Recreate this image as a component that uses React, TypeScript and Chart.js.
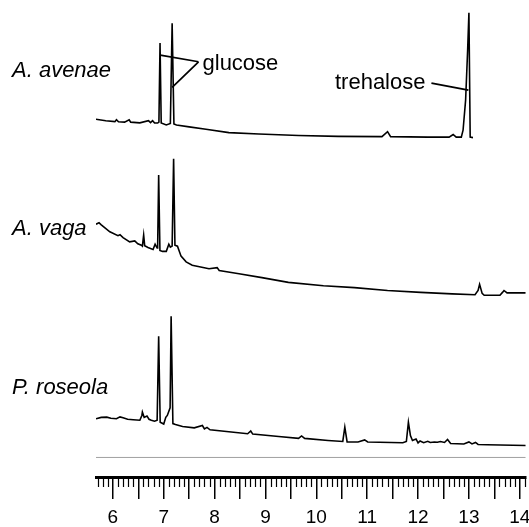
import React, { useEffect, useRef } from 'react';
import { Chart, registerables } from 'chart.js';

Chart.register(...registerables);

// ---- data (retention time in min, detector signal in arbitrary units) ----
const traceNames = ['A. avenae', 'A. vaga', 'P. roseola'];
const traceOffsets = [70, 35, 5];
const traceLabelLevels = [83.8, 50.7, 17.5];

const avenae: [number, number][] = [
  [5.668, 5.0], [5.86, 4.7], [6.04, 4.5], [6.07, 4.9], [6.11, 4.46], [6.23, 4.4], [6.32, 4.9], [6.35, 4.4],
  [6.53, 4.25], [6.70, 4.7], [6.74, 4.3], [6.78, 4.7], [6.82, 4.2], [6.88, 4.2], [6.905, 4.4], [6.927, 21.0],
  [6.95, 4.2], [7.05, 3.8], [7.13, 4.1], [7.165, 25.1], [7.20, 4.0], [7.25, 3.8], [7.50, 3.4], [7.83, 2.9],
  [8.28, 2.2], [8.87, 1.9], [9.65, 1.6], [10.43, 1.4], [11.29, 1.35], [11.40, 2.4], [11.46, 1.35],
  [12.19, 1.25], [12.61, 1.25], [12.69, 1.8], [12.75, 1.25], [12.85, 1.25], [12.885, 2.7], [12.935, 9.0],
  [12.975, 19.5], [13.0, 27.3], [13.025, 1.25], [13.08, 1.15],
];

const vaga: [number, number][] = [
  [5.668, 18.0], [5.727, 18.3], [5.766, 17.9], [5.94, 16.4], [6.10, 15.6], [6.14, 15.8], [6.20, 15.2],
  [6.33, 14.3], [6.43, 14.5], [6.49, 13.9], [6.56, 13.6], [6.58, 13.4], [6.605, 15.7], [6.625, 13.5],
  [6.69, 13.1], [6.79, 12.7], [6.83, 13.8], [6.87, 13.0], [6.88, 13.2], [6.90, 28.3], [6.925, 12.5],
  [6.976, 12.3], [7.05, 12.3], [7.10, 13.8], [7.13, 13.2], [7.165, 13.4], [7.194, 31.7], [7.22, 13.6],
  [7.27, 13.4], [7.34, 11.3], [7.44, 10.1], [7.56, 9.4], [7.89, 8.65], [8.05, 8.9], [8.09, 8.3],
  [8.48, 7.6], [8.93, 6.8], [9.45, 5.8], [10.14, 5.1], [10.75, 4.7], [11.40, 4.1], [12.05, 3.7],
  [12.67, 3.4], [13.12, 3.2], [13.18, 4.1], [13.21, 5.4], [13.26, 3.5], [13.30, 3.1], [13.61, 3.1],
  [13.66, 3.7], [13.69, 4.1], [13.75, 3.6], [13.80, 3.6], [14.117, 3.6],
];

const roseola: [number, number][] = [
  [5.668, 7.2], [5.77, 7.5], [5.88, 7.55], [5.96, 7.3], [6.07, 7.2], [6.14, 7.6], [6.20, 7.4], [6.29, 7.1],
  [6.40, 7.0], [6.53, 6.9], [6.57, 7.9], [6.58, 8.6], [6.615, 7.5], [6.67, 7.8], [6.71, 7.1], [6.755, 6.9],
  [6.82, 6.7], [6.87, 6.9], [6.90, 24.5], [6.93, 6.5], [7.0, 6.1], [7.04, 7.5], [7.07, 7.9], [7.125, 9.5],
  [7.145, 28.7], [7.18, 6.2], [7.23, 6.0], [7.37, 5.6], [7.60, 5.3], [7.76, 5.8], [7.80, 5.1], [7.85, 5.4],
  [7.91, 4.9], [8.28, 4.5], [8.65, 4.07], [8.71, 4.65], [8.75, 4.0], [9.26, 3.5], [9.65, 3.1], [9.71, 3.6],
  [9.77, 3.1], [10.23, 2.66], [10.52, 2.45], [10.56, 5.45], [10.605, 2.35], [10.82, 2.35], [10.95, 2.77],
  [11.01, 2.35], [11.70, 2.18], [11.77, 2.45], [11.81, 6.5], [11.85, 3.7], [11.89, 2.66], [11.96, 2.97],
  [12.0, 2.14], [12.04, 2.55], [12.11, 2.18], [12.19, 2.49], [12.24, 2.24], [12.32, 2.35], [12.38, 2.28],
  [12.44, 2.45], [12.52, 2.24], [12.58, 2.87], [12.64, 2.03], [12.90, 1.93], [13.0, 2.35], [13.06, 1.93],
  [13.13, 2.24], [13.18, 1.82], [13.36, 1.76], [14.117, 1.61],
];

const separatorLevel = 4.1;
const majorTicks = [6, 7, 8, 9, 10, 11, 12, 13, 14];
const xRange = [5.668, 14.117];
const yRange = [0, 100];
const minorStep = 0.1;

const glucoseLabel = { text: 'glucose', x: 7.762, y: 85.31 };
const glucoseJoin: [number, number] = [7.684, 87.05];
const glucoseTargets: [number, number][] = [[6.931, 88.46], [7.165, 81.68]];
const trehaloseLabel = { text: 'trehalose', x: 12.146, y: 81.26 };
const trehaloseLine: [number, number][] = [[12.263, 82.58], [12.99, 81.11]];

const FONT = "'Liberation Sans', Arial, Helvetica, sans-serif";

const traces = [avenae, vaga, roseola];

const overlay = {
  id: 'overlay',
  afterDraw(chart: any) {
    const { ctx, chartArea, scales } = chart;
    const x = scales.x;
    const y = scales.y;
    ctx.save();
    // minor ruler ticks
    ctx.strokeStyle = '#000';
    ctx.lineWidth = 1.2;
    const bottom = chartArea.bottom;
    const kStart = Math.ceil(x.min / minorStep - 1e-6);
    const kEnd = Math.floor(x.max / minorStep + 1e-6);
    for (let k = kStart; k <= kEnd; k++) {
      if (k % 5 === 0) continue;
      const px = Math.round(x.getPixelForValue(k * minorStep)) + 0.5;
      ctx.beginPath();
      ctx.moveTo(px, bottom + 1);
      ctx.lineTo(px, bottom + 10);
      ctx.stroke();
    }
    // trace names
    ctx.fillStyle = '#000';
    ctx.font = `italic 22px ${FONT}`;
    ctx.textAlign = 'left';
    ctx.textBaseline = 'alphabetic';
    traceNames.forEach((name, i) => {
      ctx.fillText(name, 12, y.getPixelForValue(traceLabelLevels[i]));
    });
    // annotations
    ctx.font = `22px ${FONT}`;
    ctx.fillText(glucoseLabel.text, x.getPixelForValue(glucoseLabel.x), y.getPixelForValue(glucoseLabel.y));
    ctx.textAlign = 'right';
    ctx.fillText(trehaloseLabel.text, x.getPixelForValue(trehaloseLabel.x), y.getPixelForValue(trehaloseLabel.y));
    ctx.lineWidth = 1.7;
    ctx.beginPath();
    glucoseTargets.forEach((t) => {
      ctx.moveTo(x.getPixelForValue(glucoseJoin[0]), y.getPixelForValue(glucoseJoin[1]));
      ctx.lineTo(x.getPixelForValue(t[0]), y.getPixelForValue(t[1]));
    });
    ctx.moveTo(x.getPixelForValue(trehaloseLine[0][0]), y.getPixelForValue(trehaloseLine[0][1]));
    ctx.lineTo(x.getPixelForValue(trehaloseLine[1][0]), y.getPixelForValue(trehaloseLine[1][1]));
    ctx.stroke();
    ctx.restore();
  },
};

export default function App() {
  const ref = useRef<HTMLCanvasElement>(null);
  useEffect(() => {
    const canvas = ref.current;
    if (!canvas) return;
    const datasets: any[] = traces.map((tr, i) => ({
      label: traceNames[i],
      data: tr.map(([t, s]) => ({ x: t, y: s + traceOffsets[i] })),
      borderColor: '#000',
      borderWidth: 1.6,
      pointRadius: 0,
      tension: 0,
      fill: false,
    }));
    datasets.push({
      label: 'separator',
      data: [{ x: xRange[0], y: separatorLevel }, { x: xRange[1], y: separatorLevel }],
      borderColor: '#a0a0a0',
      borderWidth: 1,
      pointRadius: 0,
      fill: false,
    });
    const chart = new Chart(canvas, {
      type: 'line',
      data: { datasets },
      options: {
        animation: false,
        responsive: false,
        devicePixelRatio: 1,
        layout: { padding: { left: 96, right: 11, top: 0, bottom: 0 } },
        plugins: { legend: { display: false }, tooltip: { enabled: false } },
        scales: {
          x: {
            type: 'linear',
            min: xRange[0],
            max: xRange[1],
            position: 'bottom',
            border: { display: true, color: '#000', width: 3 },
            grid: { display: true, drawOnChartArea: false, drawTicks: true, tickLength: 22, color: '#000', lineWidth: 1.5 },
            ticks: {
              stepSize: 0.5,
              includeBounds: false,
              autoSkip: false,
              maxRotation: 0,
              minRotation: 0,
              padding: 9.5,
              color: '#000',
              font: { family: FONT, size: 19, lineHeight: 1 },
              callback: (v: any) => {
                const n = Number(v);
                const m = majorTicks.find((t) => Math.abs(t - n) < 1e-6);
                return m === undefined ? '' : String(m);
              },
            },
          },
          y: { type: 'linear', min: yRange[0], max: yRange[1], display: false },
        },
      },
      plugins: [overlay],
    });
    return () => chart.destroy();
  }, []);
  return (
    <div style={{ position: 'absolute', left: 0, top: 0, width: 529, height: 527, overflow: 'hidden', background: '#fff' }}>
      <canvas ref={ref} width={540} height={537} style={{ display: 'block', width: 540, height: 537 }} />
    </div>
  );
}
